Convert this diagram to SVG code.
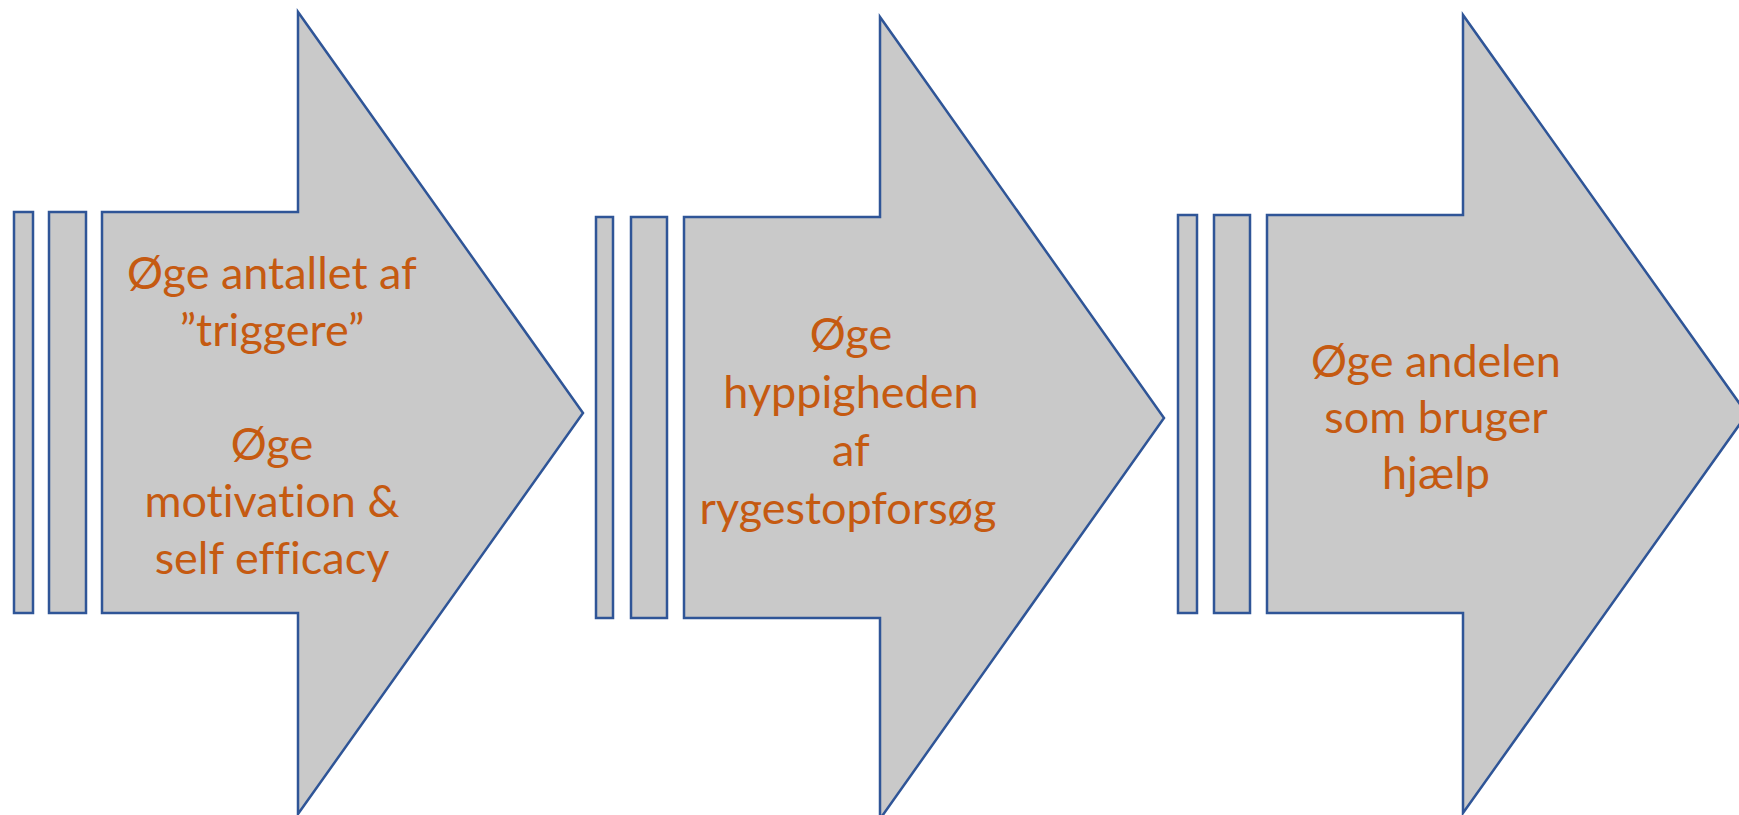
<svg xmlns="http://www.w3.org/2000/svg" width="1739" height="815" viewBox="0 0 1739 815">
<style>
.s{fill:#C9C9C9;stroke:#2F5597;stroke-width:2.5;stroke-linejoin:miter}
.t{font-family:Lato,"Open Sans","Liberation Sans",sans-serif;font-size:45px;fill:#C55A11;text-anchor:middle;font-variant-ligatures:none}
</style>
<rect width="1739" height="815" fill="#FFFFFF"/>
<g id="arrow1">
<rect class="s" x="14" y="212" width="19" height="401"/>
<rect class="s" x="49" y="212" width="37" height="401"/>
<path class="s" d="M102,212 H298 V12 L583,413 L298,814 V613 H102 Z"/>
<text class="t" x="272" y="289">Øge antallet af</text>
<text class="t" x="272" y="346">”triggere”</text>
<text class="t" x="272" y="460">Øge</text>
<text class="t" x="272" y="517">motivation &amp;</text>
<text class="t" x="272" y="574">self efficacy</text>
</g>
<g id="arrow2">
<rect class="s" x="596" y="217" width="17" height="401"/>
<rect class="s" x="631" y="217" width="36" height="401"/>
<path class="s" d="M684,217 H880 V17 L1164,418 L880,819 V618 H684 Z"/>
<text class="t" x="851" y="350">Øge</text>
<text class="t" x="851" y="408">hyppigheden</text>
<text class="t" x="851" y="466">af</text>
<text class="t" x="848" y="524">rygestopforsøg</text>
</g>
<g id="arrow3">
<rect class="s" x="1178" y="215" width="19" height="398"/>
<rect class="s" x="1214" y="215" width="36" height="398"/>
<path class="s" d="M1267,215 H1463 V15 L1747,414 L1463,813 V613 H1267 Z"/>
<text class="t" x="1436" y="377">Øge andelen</text>
<text class="t" x="1436" y="433">som bruger</text>
<text class="t" x="1436" y="489">hjælp</text>
</g>
<g id="connectors"></g>
</svg>
